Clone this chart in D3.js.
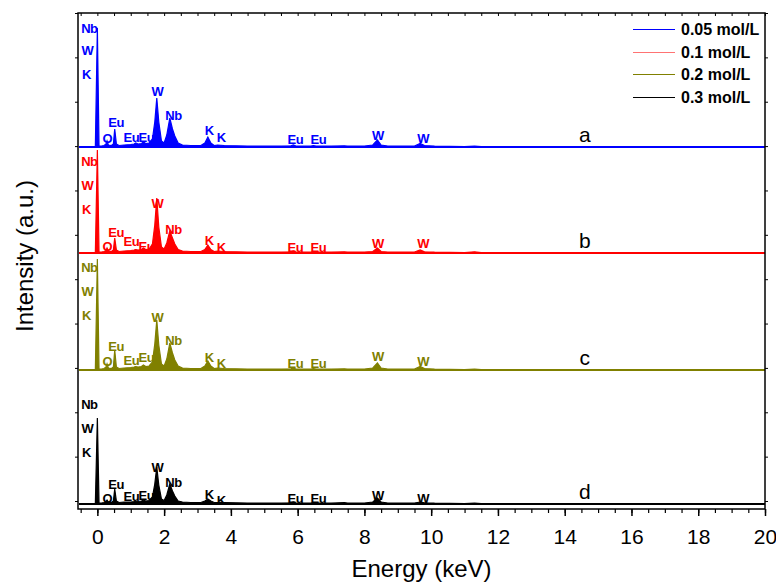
<!DOCTYPE html>
<html>
<head>
<meta charset="utf-8">
<script src="https://cdn.jsdelivr.net/npm/d3@7/dist/d3.min.js"></script>
<style>
  body { margin: 0; background: #fff; }
  text { font-family: Arial, "Liberation Sans", sans-serif; }
</style>
</head>
<body>
<svg id="chart" width="776" height="582"></svg>
<script>
// energy grid (keV) shared by the four EDS spectra
const energy = [-0.55, -0.06, 0.0, 0.05, 0.12, 0.2, 0.26, 0.29, 0.33, 0.42, 0.48, 0.52, 0.57, 0.65, 0.8, 1.0,
  1.1, 1.15, 1.22, 1.32, 1.38, 1.45, 1.55, 1.65, 1.72, 1.78, 1.84, 1.92, 2.0, 2.08, 2.17, 2.25, 2.32, 2.42,
  2.55, 2.8, 3.1, 3.22, 3.31, 3.4, 3.5, 3.6, 3.8, 4.5, 5.5, 5.8, 5.87, 5.95, 6.4, 6.47, 6.55, 7.0, 7.4, 7.5,
  8.0, 8.25, 8.39, 8.5, 8.7, 9.5, 9.67, 9.8, 10.1, 11.0, 11.3, 11.5, 14.0, 20.0];

// intensities (a.u.)
const int005 = [0.5, 0.5, 119, 1, 1, 1.5, 3, 6, 2, 1.5, 3, 18, 3, 1.5, 2, 2.5, 3, 4, 3, 3.5, 5, 3.5, 4, 8,
  25, 49, 25, 6, 4, 12, 29, 18, 11, 4, 2, 1.5, 1.5, 4, 10, 4, 1.5, 2, 1.5, 1, 1, 1.2, 2, 1, 1, 1.5, 1, 0.8,
  1.2, 0.8, 1, 2, 7, 2, 1, 1, 3.5, 1.5, 0.8, 0.5, 0.8, 0.5, 0.3, 0.3];
const int01 = [0.5, 0.5, 103, 1, 1, 1.5, 2.5, 5, 2, 1.5, 3, 15, 3, 1.5, 2, 2.5, 3, 3.5, 3, 3.5, 5, 3.5, 4, 9,
  28, 55, 26, 6, 4, 10, 22, 15, 9, 3.5, 2, 1.5, 1.5, 3.5, 8, 3.5, 1.5, 2, 1.5, 1, 1, 1.2, 2, 1, 1, 1.5, 1, 0.8,
  1.2, 0.8, 1, 1.5, 5, 1.5, 1, 1, 3, 1.2, 0.8, 0.5, 1.2, 0.5, 0.3, 0.3];
const int02 = [0.5, 0.5, 111, 1, 1, 1.5, 3, 6, 2, 1.5, 3, 20, 3, 1.5, 2, 2.5, 3, 3.5, 3, 3.5, 5, 3.5, 4, 8,
  26, 50, 25, 6, 4, 11, 27, 17, 10, 4, 2, 1.5, 1.5, 4, 9, 4, 1.5, 2, 1.5, 1, 1, 1.2, 2, 1, 1, 1.5, 1, 0.8,
  1.2, 0.8, 1, 2, 7, 2, 1, 1, 3.5, 1.5, 0.8, 0.5, 0.8, 0.5, 0.3, 0.3];
const int03 = [0.5, 0.5, 86, 1, 1, 1.5, 2.5, 4, 2, 1.5, 3, 15, 3, 1.5, 2, 2, 2.5, 3, 2.5, 3, 4, 3, 3.5, 7,
  20, 37, 19, 5, 3.5, 9, 20, 13, 8, 3, 2, 1.5, 1.5, 3, 5, 3, 1.5, 1.5, 1.5, 1, 1, 1.2, 2, 1, 1, 1.5, 1, 0.8,
  1.5, 0.8, 1, 2, 6, 2, 1, 1, 2, 1.2, 0.8, 0.5, 0.8, 0.5, 0.3, 0.3];

const seriesNames = ['0.05 mol/L', '0.1 mol/L', '0.2 mol/L', '0.3 mol/L'];
const seriesColors = ['#0000ff', '#ff0000', '#808000', '#000000'];
const panelLetters = ['a', 'b', 'c', 'd'];

// peak annotations: element, energy (keV), height above baseline for each panel
const peakNames = ['Nb', 'W', 'K', 'O', 'Eu', 'Eu', 'Eu', 'W', 'Nb', 'K', 'K', 'Eu', 'Eu', 'W', 'W'];
const peakEnergy = [-0.24, -0.3, -0.33, 0.3, 0.56, 1.02, 1.47, 1.8, 2.28, 3.35, 3.71, 5.93, 6.62, 8.4, 9.76];
const peakLabelH005 = [119, 97, 73, 9, 25, 10, 10, 56, 32, 17, 10, 8, 8, 12, 9];
const peakLabelH01 = [92, 68, 44, 7, 21, 12, 7, 50, 24, 13, 6, 6, 6, 10, 10];
const peakLabelH02 = [103, 79, 55, 9, 24, 10, 13, 53, 30, 13, 7, 7, 7, 14, 9];
const peakLabelH03 = [100, 76, 52, 6, 20, 8, 9, 37, 22, 10, 4, 6, 6, 9, 6];

const xTicks = [0, 2, 4, 6, 8, 10, 12, 14, 16, 18, 20];

const intensities = [int005, int01, int02, int03];
const labelHeights = [peakLabelH005, peakLabelH01, peakLabelH02, peakLabelH03];

const plotLeft = 78, plotRight = 765, plotTop = 13, plotBottom = 509;
const baselines = [147, 253, 370, 504];

const svg = d3.select('#chart');

const x = d3.scaleLinear().domain([-0.58, 20]).range([plotLeft, plotRight]);
// frame scale for the y ticks on both sides
const yFrame = d3.scaleLinear().domain([-0.18, 11]).range([plotBottom, plotTop]);

// spectra
intensities.forEach((vals, i) => {
  const base = baselines[i];
  const y = d3.scaleLinear().domain([0, 100]).range([base, base - 100]);
  const pts = energy.map((e, j) => ({ e: e, v: vals[j] }));
  const area = d3.area()
    .x(d => x(d.e))
    .y0(base)
    .y1(d => y(d.v));
  const line = d3.line()
    .x(d => x(d.e))
    .y(d => y(d.v));
  svg.append('path')
    .datum(pts)
    .attr('d', area)
    .attr('fill', seriesColors[i]);
  svg.append('path')
    .datum(pts)
    .attr('d', line)
    .attr('fill', 'none')
    .attr('stroke', seriesColors[i])
    .attr('stroke-width', 1.2);
  svg.append('line')
    .attr('x1', x(energy[0])).attr('x2', x(energy[energy.length - 1]))
    .attr('y1', base).attr('y2', base)
    .attr('stroke', seriesColors[i])
    .attr('stroke-width', 2);

  // element labels
  svg.append('g')
    .selectAll('text')
    .data(peakNames)
    .enter()
    .append('text')
    .attr('x', (d, k) => x(peakEnergy[k]))
    .attr('y', (d, k) => y(labelHeights[i][k]))
    .attr('dy', '0.36em')
    .attr('text-anchor', 'middle')
    .attr('font-size', 13)
    .attr('font-weight', 'bold')
    .attr('letter-spacing', -0.5)
    .attr('fill', seriesColors[i])
    .text(d => d);

  // panel letter
  svg.append('text')
    .attr('x', x(14.6))
    .attr('y', y(13))
    .attr('dy', '0.36em')
    .attr('text-anchor', 'middle')
    .attr('font-size', 21)
    .text(panelLetters[i]);
});

// frame
svg.append('rect')
  .attr('x', plotLeft).attr('y', plotTop)
  .attr('width', plotRight - plotLeft).attr('height', plotBottom - plotTop)
  .attr('fill', 'none')
  .attr('stroke', '#000')
  .attr('stroke-width', 1.5);

const minorTicks = d3.range(-0.5, 20.01, 0.5);

// bottom axis, major + minor ticks
const xAxis = svg.append('g')
  .attr('transform', 'translate(0,' + plotBottom + ')')
  .call(d3.axisBottom(x).tickValues(xTicks).tickSize(7).tickPadding(13).tickFormat(d3.format('d')));
xAxis.select('.domain').remove();
xAxis.selectAll('line').attr('stroke-width', 1.5);
xAxis.selectAll('text').attr('font-size', 21).attr('font-family', 'Arial, "Liberation Sans", sans-serif');

const xMinor = svg.append('g')
  .attr('transform', 'translate(0,' + plotBottom + ')')
  .call(d3.axisBottom(x).tickValues(minorTicks).tickSize(4).tickFormat(''));
xMinor.select('.domain').remove();
xMinor.selectAll('line').attr('stroke-width', 1.2);

// top axis ticks (inward)
const xTop = svg.append('g')
  .attr('transform', 'translate(0,' + plotTop + ')')
  .call(d3.axisTop(x).tickValues(minorTicks).tickSize(-3).tickFormat(''));
xTop.select('.domain').remove();

// left and right ticks
const yLeft = svg.append('g')
  .attr('transform', 'translate(' + plotLeft + ',0)')
  .call(d3.axisLeft(yFrame).ticks(11).tickSize(3).tickFormat(''));
yLeft.select('.domain').remove();
const yRight = svg.append('g')
  .attr('transform', 'translate(' + plotRight + ',0)')
  .call(d3.axisRight(yFrame).ticks(11).tickSize(3).tickFormat(''));
yRight.select('.domain').remove();

// axis titles
svg.append('text')
  .attr('x', (plotLeft + plotRight) / 2)
  .attr('y', 577)
  .attr('text-anchor', 'middle')
  .attr('font-size', 24)
  .text('Energy (keV)');

svg.append('text')
  .attr('transform', 'translate(33,' + 256 + ') rotate(-90)')
  .attr('text-anchor', 'middle')
  .attr('font-size', 24)
  .text('Intensity (a.u.)');

// legend
const legend = svg.append('g');
seriesNames.forEach((name, i) => {
  const ly = Math.round(29 + i * 22.5) + 0.5;
  legend.append('line')
    .attr('x1', 633).attr('x2', 675)
    .attr('y1', ly).attr('y2', ly)
    .attr('stroke', seriesColors[i])
    .attr('stroke-opacity', i === 1 ? 0.55 : 1)
    .attr('stroke-width', 1.2);
  legend.append('text')
    .attr('x', 681).attr('y', ly)
    .attr('dy', '0.36em')
    .attr('font-size', 16)
    .attr('font-weight', 'bold')
    .text(name);
});
</script>
</body>
</html>
